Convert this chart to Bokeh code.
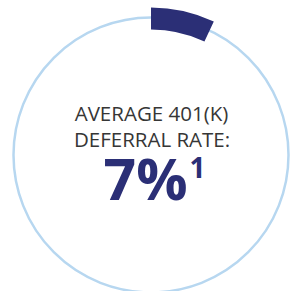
import math
from bokeh.plotting import figure
from bokeh.models import Range1d
from bokeh.core.properties import value
from bokeh.embed import file_html
from bokeh.resources import INLINE

# Data
deferral_rate_pct = [7]
label_lines = ["AVERAGE 401(K)", "DEFERRAL RATE:"]
big_value = ["7%"]
footnote = ["1"]

NAVY = "#2b2f76"
RING = "#b7d7f0"
GRAY = "#363636"

W, H = 292, 291
# coordinate system centred on the ring, 1 unit = 1 px
cx_page, cy_page = 150.5, 154.5
p = figure(width=W, height=H, output_backend="svg", toolbar_location=None,
           x_range=Range1d(-cx_page, W - cx_page),
           y_range=Range1d(cy_page - H, cy_page),
           min_border=0, outline_line_color=None)
p.axis.visible = False
p.grid.visible = False
p.background_fill_color = "white"
p.border_fill_color = "white"

R = 137.5
p.circle(x=[0], y=[0], radius=R, fill_color=None, line_color=RING, line_width=2.5)

frac = deferral_rate_pct[0] / 100.0
start = math.pi / 2 - 2 * math.pi * frac
end = math.pi / 2
p.annular_wedge(x=[0], y=[0], inner_radius=125.5, outer_radius=147.5,
                start_angle=[start], end_angle=[end], direction="anticlock",
                fill_color=NAVY, line_color=None)

p.text(x=[0.5, 1], y=[42, 16.5], text=label_lines,
       text_font=value("Open Sans"), text_font_size="20.5px",
       text_color=GRAY, text_align="center", text_baseline="alphabetic")

p.text(x=[36.5], y=[-23.3], text=big_value,
       text_font=value("Open Sans"), text_font_style="bold", text_font_size="57px",
       text_color=NAVY, text_align="right", text_baseline="alphabetic")
p.text(x=[38.5], y=[-12.9], text=footnote,
       text_font=value("Open Sans"), text_font_style="bold", text_font_size="28px",
       text_color=NAVY, text_align="left", text_baseline="alphabetic")

open("out.html", "w").write(file_html(p, INLINE))
